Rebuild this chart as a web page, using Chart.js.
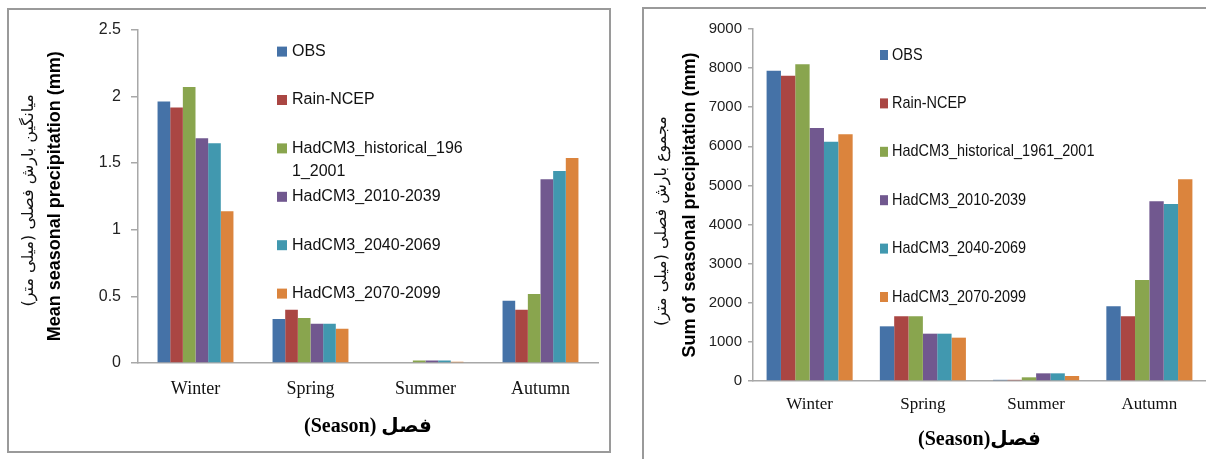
<!DOCTYPE html>
<html>
<head>
<meta charset="utf-8">
<script src="https://cdn.jsdelivr.net/npm/chart.js@4"></script>
<style>
  html, body { margin: 0; padding: 0; background: #fff; width: 1206px; height: 459px; overflow: hidden; position: relative; }
  .panel { position: absolute; box-sizing: border-box; border: 2px solid #9a9a9a; background: #fff; }
  #p1 { left: 7px; top: 8px; width: 604px; height: 445px; }
  #p2 { left: 642px; top: 7px; width: 600px; height: 480px; }
  canvas { position: absolute; }
  #c1 { left: 9px; top: 10px; width: 599px; height: 440px; }
  #c2 { left: 644px; top: 9px; width: 562px; height: 450px; }
</style>
</head>
<body>
<div class="panel" id="p1"></div>
<div class="panel" id="p2"></div>
<canvas id="c1" width="599" height="440"></canvas>
<canvas id="c2" width="562" height="450"></canvas>
<script>
// Seasons and series
const seasons = ['Winter', 'Spring', 'Summer', 'Autumn'];
const seriesNames = ['OBS', 'Rain-NCEP', 'HadCM3_historical_1961_2001', 'HadCM3_2010-2039', 'HadCM3_2040-2069', 'HadCM3_2070-2099'];
const seriesColors = ['#4572A7', '#AA4643', '#89A54E', '#71588F', '#4198AF', '#DB843D'];

// Mean seasonal precipitation (mm)
const meanOBS  = [1.96, 0.33, 0, 0.466];
const meanNCEP = [1.915, 0.40, 0, 0.40];
const meanHist = [2.07, 0.338, 0.018, 0.518];
const mean2010 = [1.685, 0.294, 0.018, 1.378];
const mean2040 = [1.647, 0.294, 0.018, 1.44];
const mean2070 = [1.137, 0.257, 0.01, 1.538];

// Sum of seasonal precipitation (mm)
const sumOBS  = [7935, 1398, 30, 1910];
const sumNCEP = [7807, 1654, 30, 1654];
const sumHist = [8098, 1654, 94, 2583];
const sum2010 = [6469, 1210, 196, 4595];
const sum2040 = [6119, 1210, 196, 4526];
const sum2070 = [6308, 1108, 128, 5157];

// Axis ticks
const meanTicks = [0, 0.5, 1, 1.5, 2, 2.5];
const sumTicks = [0, 1000, 2000, 3000, 4000, 5000, 6000, 7000, 8000, 9000];

const meanSeries = [meanOBS, meanNCEP, meanHist, mean2010, mean2040, mean2070];
const sumSeries = [sumOBS, sumNCEP, sumHist, sum2010, sum2040, sum2070];

const AXIS_GREY = '#a8a8a8';

// Break a label into lines that fit maxWidth (character level, like a narrow text box)
function wrapLabel(ctx, text, maxWidth, sx) {
  const lines = [];
  let cur = '';
  for (const ch of text) {
    if (cur && ctx.measureText(cur + ch).width * sx > maxWidth) {
      lines.push(cur);
      cur = ch;
    } else {
      cur += ch;
    }
  }
  if (cur) lines.push(cur);
  return lines;
}

// Legend drawn inside the plot area as a vertical list
const sideLegend = {
  id: 'sideLegend',
  afterDraw(chart, args, o) {
    const { ctx, chartArea } = chart;
    const sx = o.sx || 1;
    ctx.save();
    ctx.font = o.font;
    ctx.textBaseline = 'middle';
    ctx.textAlign = 'left';
    chart.data.datasets.forEach((ds, i) => {
      const x = chartArea.left + o.left;
      const y = chartArea.top + o.top + i * o.step;
      ctx.fillStyle = ds.backgroundColor;
      ctx.fillRect(x, y - o.boxH / 2, o.boxW, o.boxH);
      ctx.fillStyle = '#111';
      const lines = wrapLabel(ctx, ds.label, o.maxWidth, sx);
      lines.forEach((ln, k) => {
        ctx.save();
        ctx.translate(x + o.textGap, y + k * o.lineH);
        ctx.scale(sx, 1);
        ctx.fillText(ln, 0, 0);
        ctx.restore();
      });
    });
    ctx.restore();
  }
};

// Persian line of the vertical axis title
const sideCaption = {
  id: 'sideCaption',
  afterDraw(chart, args, o) {
    const { ctx, chartArea } = chart;
    ctx.save();
    ctx.translate(o.x, (chartArea.top + chartArea.bottom) / 2 + (o.dy || 0));
    ctx.rotate(-Math.PI / 2);
    ctx.direction = 'rtl';
    ctx.font = o.font;
    ctx.fillStyle = '#111';
    ctx.textAlign = 'center';
    ctx.textBaseline = 'middle';
    ctx.fillText(o.text, 0, 0);
    ctx.restore();
  }
};

function makeDatasets(series, catPct) {
  return series.map((vals, i) => ({
    label: seriesNames[i],
    data: vals,
    backgroundColor: seriesColors[i],
    borderWidth: 0,
    categoryPercentage: catPct,
    barPercentage: 1.0
  }));
}

function makeChart(id, cfg) {
  return new Chart(document.getElementById(id), {
    type: 'bar',
    data: { labels: seasons, datasets: makeDatasets(cfg.series, cfg.catPct) },
    plugins: [sideLegend, sideCaption],
    options: {
      responsive: false,
      animation: false,
      layout: { padding: cfg.padding },
      plugins: {
        legend: { display: false },
        tooltip: { enabled: false },
        sideLegend: cfg.legend,
        sideCaption: cfg.caption
      },
      scales: {
        x: {
          afterFit(s) { s.height = cfg.xHeight; },
          grid: { display: false, drawTicks: false },
          border: { display: true, color: AXIS_GREY, width: 1.5 },
          ticks: {
            color: '#111',
            padding: cfg.xTickPad,
            font: { family: "'Liberation Serif', serif", size: cfg.catSize }
          },
          title: {
            display: true,
            text: cfg.xTitle,
            color: '#000',
            padding: { top: 0, bottom: cfg.xTitlePad },
            font: { family: "'Liberation Serif', 'DejaVu Sans', serif", size: 20, weight: 'bold' }
          }
        },
        y: {
          min: cfg.ticks[0],
          max: cfg.ticks[cfg.ticks.length - 1],
          afterFit(s) { s.width = cfg.yWidth; },
          afterBuildTicks(s) { s.ticks = cfg.ticks.map(v => ({ value: v })); },
          grid: { drawOnChartArea: false, drawTicks: true, tickLength: cfg.tickLen, color: AXIS_GREY, lineWidth: 1.5 },
          border: { display: true, color: AXIS_GREY, width: 1.5 },
          ticks: {
            color: '#222',
            padding: cfg.yTickPad,
            font: { family: "'Liberation Sans', sans-serif", size: cfg.tickSize },
            callback: v => String(v)
          },
          title: {
            display: true,
            text: cfg.yTitle,
            color: '#000',
            padding: { top: cfg.yTitlePad, bottom: 0 },
            font: { family: "'Liberation Sans', sans-serif", size: cfg.yTitleSize, weight: 'bold' }
          }
        }
      }
    }
  });
}

// Left: mean seasonal precipitation
makeChart('c1', {
  series: meanSeries,
  ticks: meanTicks,
  catPct: 0.66,
  padding: { left: 0, right: 10, top: 15, bottom: 0 },
  xHeight: 87,
  yWidth: 129,
  xTickPad: 15,
  xTitlePad: 11,
  catSize: 18,
  tickLen: 7,
  yTickPad: 10,
  tickSize: 16,
  yTitlePad: 35,
  yTitleSize: 18,
  xTitle: '(Season) فصل',
  yTitle: 'Mean seasonal precipitation (mm)',
  legend: { font: "16px 'Liberation Sans', sans-serif", left: 139, top: 22, step: 48.4, boxW: 10, boxH: 10, textGap: 15, maxWidth: 176, lineH: 23, sx: 1 },
  caption: { text: 'میانگین بارش فصلی (میلی متر)', x: 20, dy: 4, font: "16px 'DejaVu Sans', sans-serif" }
});

// Right: sum of seasonal precipitation
makeChart('c2', {
  series: sumSeries,
  ticks: sumTicks,
  catPct: 0.76,
  padding: { left: 0, right: 0, top: 20, bottom: 0 },
  xHeight: 78,
  yWidth: 109,
  xTickPad: 13,
  xTitlePad: 7,
  catSize: 17,
  tickLen: 5,
  yTickPad: 6,
  tickSize: 15,
  yTitlePad: 35,
  yTitleSize: 18,
  xTitle: '(Season)فصل',
  yTitle: 'Sum of seasonal precipitation (mm)',
  legend: { font: "17px 'Liberation Sans', sans-serif", left: 127, top: 26, step: 48.4, boxW: 8, boxH: 10, textGap: 12, maxWidth: 300, lineH: 23, sx: 0.85 },
  caption: { text: 'مجموع بارش فصلی (میلی متر)', x: 18, dy: 16, font: "16px 'DejaVu Sans', sans-serif" }
});
</script>
</body>
</html>
